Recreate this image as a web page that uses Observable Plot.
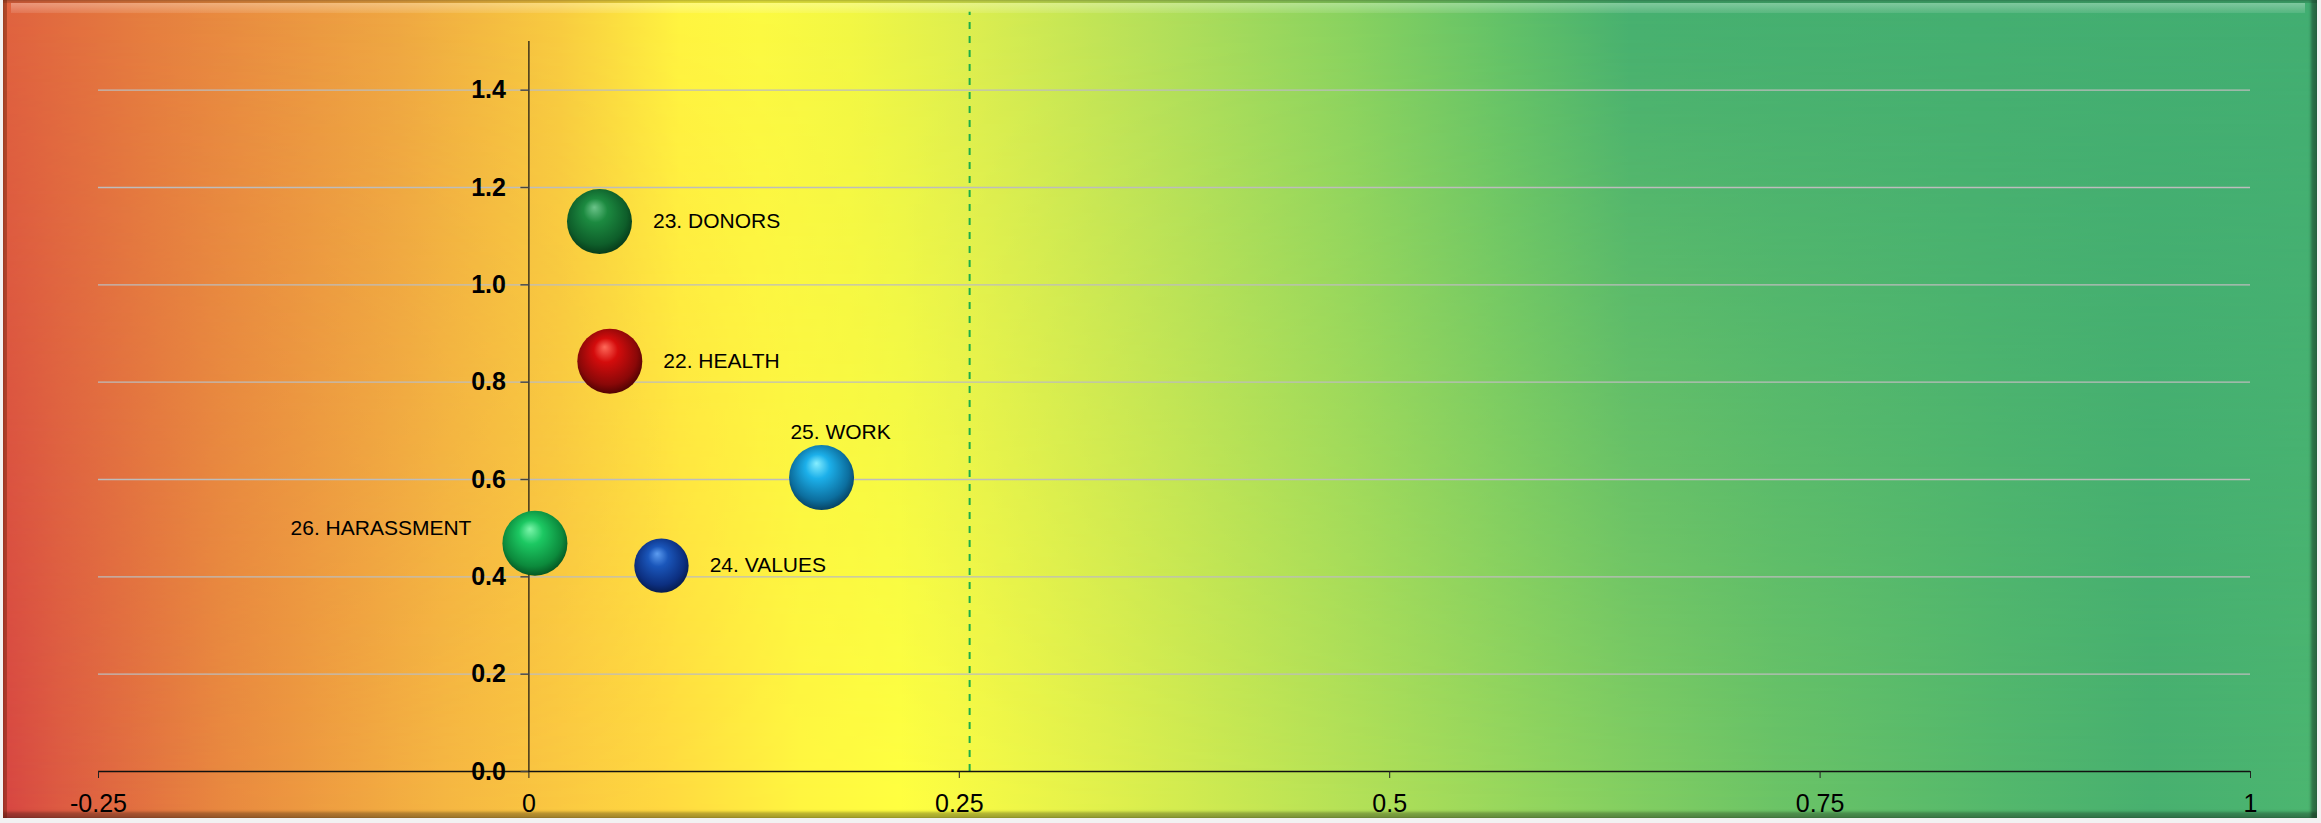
<!DOCTYPE html>
<html>
<head>
<meta charset="utf-8">
<script src="https://cdn.jsdelivr.net/npm/d3@7"></script>
<script src="https://cdn.jsdelivr.net/npm/@observablehq/plot@0.6"></script>
<style>
  html, body { margin: 0; padding: 0; background: #ffffff; }
  #wrap { position: relative; width: 2321px; height: 823px; overflow: hidden; background: #f2f2f2; }
  #frame { position: absolute; left: 3px; top: 0; width: 2314px; height: 818px; overflow: hidden; }
  .bg { position: absolute; left: 0; top: 0; width: 100%; height: 100%; }
  #bgBottom {
    -webkit-mask-image: linear-gradient(to bottom, rgba(0,0,0,0) 0%, rgba(0,0,0,1) 100%);
    mask-image: linear-gradient(to bottom, rgba(0,0,0,0) 0%, rgba(0,0,0,1) 100%);
  }
  #bevel {
    position: absolute; left: 0; top: 0; width: 100%; height: 100%;
    box-shadow: inset 4px 0 0 rgba(90, 25, 0, 0.35),
                inset 0 3px 0 rgba(0, 0, 0, 0.12),
                inset -6px 0 3px rgba(0, 0, 0, 0.38),
                inset 0 -6px 3px rgba(0, 0, 0, 0.30);
  }
  #hl { position: absolute; left: 8px; right: 12px; top: 3px; height: 10px;
        background: linear-gradient(to bottom, rgba(255,255,255,0.32), rgba(255,255,255,0.10)); }
  #chart { position: absolute; left: 0; top: 0; }
</style>
</head>
<body>
<div id="wrap">
  <div id="frame">
    <div class="bg" id="bgTop"></div>
    <div class="bg" id="bgBottom"></div>
    <div id="bevel"></div>
    <div id="hl"></div>
  </div>
  <div id="chart"></div>
</div>
<script>
// ---------------- data ----------------
const names = ["22. HEALTH", "23. DONORS", "24. VALUES", "25. WORK", "26. HARASSMENT"];
const xValues = [0.047, 0.041, 0.077, 0.170, 0.0035];
const yValues = [0.843, 1.130, 0.423, 0.604, 0.469];
const sizeValues = [1, 1, 0.7, 1, 1];
const labelPlacement = ["right", "right", "right", "above", "left"];

const xTicks = [-0.25, 0, 0.25, 0.5, 0.75, 1];
const xTickLabels = ["-0.25", "0", "0.25", "0.5", "0.75", "1"];
const yTicks = [0, 0.2, 0.4, 0.6, 0.8, 1.0, 1.2, 1.4];
const yTickLabels = ["0.0", "0.2", "0.4", "0.6", "0.8", "1.0", "1.2", "1.4"];
const xDomain = [-0.25, 1];
const yDomain = [0, 1.5];
const threshold = 0.256;
const thresholdTop = 1.56;

// ---------------- styles ----------------
const FONT = "'Liberation Sans', Arial, Helvetica, sans-serif";
const sphereStyles = [
  {id: "sph-health",  hi: "#ff6a5a", base: "#d40c0c", dark: "#8a0808", rim: "#4a0202"},
  {id: "sph-donors",  hi: "#6cc48a", base: "#1c8a40", dark: "#0e5e2a", rim: "#063818"},
  {id: "sph-values",  hi: "#5c9cf0", base: "#1a56ba", dark: "#0c2f80", rim: "#061a4a"},
  {id: "sph-work",    hi: "#86eeff", base: "#1cb0ea", dark: "#0c6e9e", rim: "#063e5c"},
  {id: "sph-harass",  hi: "#7cf5aa", base: "#1cc862", dark: "#0c8a3c", rim: "#05501f"}
];

// background gradient stops (page x in px, colour): top row and bottom row
const bgTopStops = [
  [0, "#e0623f"], [150, "#e67f3f"], [400, "#efa842"], [560, "#f8cc40"], [680, "#fff540"],
  [760, "#fcfa42"], [850, "#f2f744"], [969, "#dcee50"], [1150, "#b5e05a"], [1350, "#88d260"],
  [1500, "#62c268"], [1630, "#46b070"], [2321, "#42ae72"]
];
const bgBottomStops = [
  [0, "#d64442"], [60, "#dc5a42"], [222, "#e8883f"], [444, "#f5b642"], [666, "#ffd840"],
  [800, "#fff540"], [900, "#ffff40"], [960, "#f8fa44"], [1110, "#e0f04c"], [1332, "#b8e256"],
  [1554, "#90d45e"], [1776, "#6cc466"], [1998, "#54b86c"], [2150, "#48b06f"], [2321, "#4cb670"]
];
const frameLeft = 3;
function grad(stops) {
  return "linear-gradient(to right, " + stops.map(([x, c]) => `${c} ${x - frameLeft}px`).join(", ") + ")";
}
document.getElementById("bgTop").style.background = grad(bgTopStops);
document.getElementById("bgBottom").style.background = grad(bgBottomStops);

// ---------------- chart ----------------
const data = names.map((name, i) => ({
  name, x: xValues[i], y: yValues[i], size: sizeValues[i],
  place: labelPlacement[i], fill: `url(#${sphereStyles[i].id})`
}));

const rMax = 32.5;
const labelMarks = data.map(d => {
  const r = rMax * Math.sqrt(d.size);
  let opts;
  if (d.place === "right") opts = {dx: r + 21, dy: 0, textAnchor: "start"};
  else if (d.place === "above") opts = {dx: 19, dy: -(r + 13), textAnchor: "middle"};
  else opts = {dx: -(r + 31), dy: -15, textAnchor: "end"};
  return Plot.text([d], {x: "x", y: "y", text: "name", fill: "#000", fontSize: 21, ...opts});
});

const xLabelOf = d => xTickLabels[xTicks.indexOf(d)];

const chart = Plot.plot({
  width: 2321,
  height: 823,
  marginLeft: 98,
  marginRight: 71,
  marginTop: 41,
  marginBottom: 52,
  style: {background: "transparent", fontFamily: FONT, fontSize: "21px", color: "#000", overflow: "visible"},
  x: {domain: xDomain},
  y: {domain: yDomain, axis: null},
  r: {type: "sqrt", domain: [0, 1], range: [0, rMax]},
  color: {type: "identity"},
  marks: [
    Plot.gridY(yTicks.filter(d => d > 0), {stroke: "#bdbdbd", strokeOpacity: 1, strokeWidth: 1.4}),
    Plot.ruleX([threshold], {y1: 0, y2: thresholdTop, stroke: "#1cae4a", strokeWidth: 2, strokeDasharray: "7,7"}),
    Plot.ruleY([0], {stroke: "#111", strokeWidth: 1.4}),
    Plot.ruleX([0], {y1: 0, y2: yDomain[1], stroke: "#111", strokeWidth: 1.2}),
    Plot.ruleY(yTicks, {y: d => d, x1: 0, x2: 0, insetLeft: -8, stroke: "#444", strokeWidth: 1.4}),
    Plot.text(yTicks, {x: 0, y: d => d, text: (d, i) => yTickLabels[i], dx: -23, textAnchor: "end",
      fontWeight: "bold", fontSize: 25, fill: "#000"}),
    Plot.axisX(xTicks, {tickSize: 7, tickPadding: 16, tickFormat: xLabelOf, fontSize: 25,
      stroke: "#222", fill: "#000", label: null}),
    Plot.dot(data, {x: "x", y: "y", r: "size", fill: "fill", stroke: "none"}),
    ...labelMarks
  ]
});

// sphere shading gradients
const defs = d3.select(chart).insert("defs", ":first-child");
sphereStyles.forEach(s => {
  const g = defs.append("radialGradient").attr("id", s.id)
    .attr("cx", "48%").attr("cy", "44%").attr("r", "58%").attr("fx", "42%").attr("fy", "28%");
  g.append("stop").attr("offset", "0%").attr("stop-color", s.hi);
  g.append("stop").attr("offset", "32%").attr("stop-color", s.base);
  g.append("stop").attr("offset", "78%").attr("stop-color", s.dark);
  g.append("stop").attr("offset", "100%").attr("stop-color", s.rim);
});

document.getElementById("chart").appendChild(chart);
</script>
</body>
</html>
